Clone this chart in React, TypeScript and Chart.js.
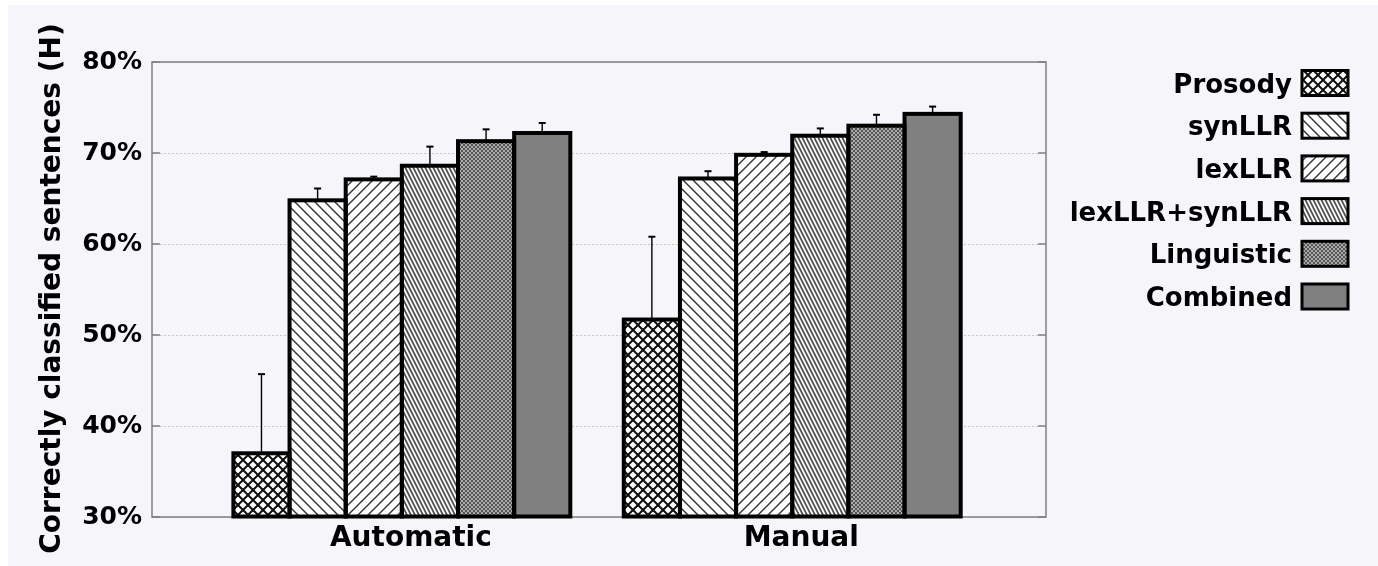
import React, { useEffect, useRef } from 'react';
import { Chart, registerables } from 'chart.js';

Chart.register(...registerables);

// Categories and series
const categories = ['Automatic', 'Manual'];
const seriesNames = ['Prosody', 'synLLR', 'lexLLR', 'lexLLR+synLLR', 'Linguistic', 'Combined'];

// Percentage of correctly classified sentences per series (Automatic, Manual)
const prosody = [37.0, 51.7];
const synLLR = [64.8, 67.2];
const lexLLR = [67.1, 69.8];
const lexSynLLR = [68.6, 71.9];
const linguistic = [71.3, 73.0];
const combined = [72.2, 74.3];

// Upper error extents (percentage points above each bar)
const prosodyErr = [8.7, 9.1];
const synLLRErr = [1.3, 0.8];
const lexLLRErr = [0.3, 0.3];
const lexSynLLRErr = [2.1, 0.8];
const linguisticErr = [1.3, 1.2];
const combinedErr = [1.1, 0.8];

const yTicks = [30, 40, 50, 60, 70, 80];

const FONT = '"DejaVu Sans", "Liberation Sans", sans-serif';

type Ctx2D = CanvasRenderingContext2D;

function makeTile(w: number, h: number, draw: (g: Ctx2D) => void): CanvasPattern {
  const c = document.createElement('canvas');
  c.width = w;
  c.height = h;
  const g = c.getContext('2d') as Ctx2D;
  g.fillStyle = '#ffffff';
  g.fillRect(0, 0, w, h);
  draw(g);
  return g.createPattern(c, 'repeat') as CanvasPattern;
}

// dir 1 draws "\" lines, dir -1 draws "/" lines, periodic within a w x h tile
function hatch(g: Ctx2D, w: number, h: number, dir: number, color: string, lw: number) {
  g.strokeStyle = color;
  g.lineWidth = lw;
  g.beginPath();
  for (let k = -2; k <= 2; k++) {
    if (dir > 0) {
      g.moveTo(k * w - w, -h);
      g.lineTo(k * w + 2 * w, 2 * h);
    } else {
      g.moveTo(k * w + 2 * w, -h);
      g.lineTo(k * w - w, 2 * h);
    }
  }
  g.stroke();
}

function buildFills(): (CanvasPattern | string)[] {
  const cross = makeTile(10, 10, (g) => {
    hatch(g, 10, 10, 1, '#111111', 2);
    hatch(g, 10, 10, -1, '#111111', 2);
  });
  const back = makeTile(10, 10, (g) => hatch(g, 10, 10, 1, '#333333', 1.4));
  const fwd = makeTile(10, 10, (g) => hatch(g, 10, 10, -1, '#333333', 1.4));
  const steep = makeTile(4, 8, (g) => hatch(g, 4, 8, 1, '#505050', 1.8));
  const dense = makeTile(4, 4, (g) => {
    hatch(g, 4, 4, 1, '#555555', 1.4);
    hatch(g, 4, 4, -1, '#555555', 1.4);
  });
  return [cross, back, fwd, steep, dense, '#808080'];
}

const framePlugin = {
  id: 'frameAndKey',
  beforeDatasetsDraw(chart: any) {
    const { ctx, chartArea: a } = chart;
    const y = chart.scales.y;
    ctx.save();
    ctx.strokeStyle = '#808080';
    ctx.lineWidth = 1.5;
    ctx.strokeRect(a.left, a.top, a.right - a.left, a.bottom - a.top);
    ctx.beginPath();
    for (const t of yTicks) {
      const py = y.getPixelForValue(t);
      ctx.moveTo(a.left, py);
      ctx.lineTo(a.left + 8, py);
      ctx.moveTo(a.right, py);
      ctx.lineTo(a.right - 8, py);
    }
    ctx.stroke();
    ctx.restore();
  },
  afterDatasetsDraw(chart: any) {
    const { ctx } = chart;
    const y = chart.scales.y;
    ctx.save();
    chart.data.datasets.forEach((ds: any, i: number) => {
      const meta = chart.getDatasetMeta(i);
      meta.data.forEach((bar: any, j: number) => {
        const p = bar.getProps(['x', 'y', 'base', 'width'], true);
        const top = y.getPixelForValue(ds.data[j].y + ds.errors[j]);
        // error bar
        ctx.strokeStyle = '#000000';
        ctx.lineWidth = 1.4;
        ctx.beginPath();
        ctx.moveTo(p.x, p.y);
        ctx.lineTo(p.x, top);
        ctx.stroke();
        ctx.lineWidth = 2;
        ctx.beginPath();
        ctx.moveTo(p.x - 3.5, top);
        ctx.lineTo(p.x + 3.5, top);
        ctx.stroke();
      });
    });
    chart.data.datasets.forEach((_ds: any, i: number) => {
      const meta = chart.getDatasetMeta(i);
      meta.data.forEach((bar: any) => {
        const p = bar.getProps(['x', 'y', 'base', 'width'], true);
        const base = Math.min(p.base, chart.chartArea.bottom);
        ctx.strokeStyle = '#000000';
        ctx.lineWidth = 4;
        ctx.lineJoin = 'miter';
        ctx.strokeRect(p.x - p.width / 2, p.y, p.width, base - p.y);
      });
    });
    ctx.restore();
  },
  afterDraw(chart: any) {
    const { ctx, chartArea: a } = chart;
    ctx.save();
    // key on the right
    const textRight = a.right + 246;
    const boxLeft = a.right + 256;
    chart.data.datasets.forEach((ds: any, i: number) => {
      const cy = a.top + 21 + i * 42.7;
      ctx.font = `bold 26px ${FONT}`;
      ctx.fillStyle = '#000000';
      ctx.textAlign = 'right';
      ctx.textBaseline = 'alphabetic';
      ctx.fillText(ds.label, textRight, cy + 9.5);
      ctx.fillStyle = ds.backgroundColor;
      ctx.fillRect(boxLeft, cy - 12.5, 46, 25);
      ctx.strokeStyle = '#000000';
      ctx.lineWidth = 3;
      ctx.strokeRect(boxLeft, cy - 12.5, 46, 25);
    });
    // y axis title
    ctx.translate(52, (a.top + a.bottom) / 2 - 1);
    ctx.rotate(-Math.PI / 2);
    ctx.font = `bold 28px ${FONT}`;
    ctx.fillStyle = '#000000';
    ctx.textAlign = 'center';
    ctx.textBaseline = 'alphabetic';
    ctx.fillText('Correctly classified sentences (H)', 0, 0);
    ctx.restore();
  },
};

export default function App() {
  const ref = useRef<HTMLCanvasElement>(null);

  useEffect(() => {
    const canvas = ref.current as HTMLCanvasElement;
    const fills = buildFills();
    const values = [prosody, synLLR, lexLLR, lexSynLLR, linguistic, combined];
    const errors = [prosodyErr, synLLRErr, lexLLRErr, lexSynLLRErr, linguisticErr, combinedErr];

    const datasets = seriesNames.map((name, i) => ({
      label: name,
      data: values[i].map((v, j) => ({ x: j, y: v })),
      errors: errors[i],
      backgroundColor: fills[i],
      borderWidth: 0,
      base: yTicks[0],
      categoryPercentage: 0.863,
      barPercentage: 1,
    }));

    const chart = new Chart(canvas, {
      type: 'bar',
      data: { datasets } as any,
      plugins: [framePlugin],
      options: {
        animation: false,
        responsive: false,
        devicePixelRatio: 1,
        layout: { padding: { top: 57, right: 332, left: 0, bottom: 0 } },
        plugins: {
          legend: { display: false },
          tooltip: { enabled: false },
        },
        scales: {
          x: {
            type: 'linear',
            min: -0.64,
            max: 1.65,
            offset: false,
            grid: { display: false, offset: false },
            border: { display: false },
            afterBuildTicks: (scale: any) => {
              scale.ticks = categories.map((_c, i) => ({ value: i }));
            },
            afterFit: (scale: any) => {
              scale.height = 49;
            },
            ticks: {
              callback: (_v: any, index: number) => categories[index],
              font: { family: FONT, size: 28, weight: 'bold' },
              color: '#000000',
              padding: -3,
              labelOffset: 9,
              maxRotation: 0,
              autoSkip: false,
            },
          },
          y: {
            type: 'linear',
            min: 30,
            max: 80,
            afterBuildTicks: (scale: any) => {
              scale.ticks = yTicks.map((v) => ({ value: v }));
            },
            afterFit: (scale: any) => {
              scale.width = 144;
            },
            grid: {
              color: '#c8c8c8',
              lineWidth: 1,
              drawTicks: false,
            },
            border: { display: false, dash: [2, 2] },
            ticks: {
              callback: (v: any) => `${v}%`,
              font: { family: FONT, size: 25, weight: 'bold' },
              color: '#000000',
              padding: 10,
            },
          },
        },
      } as any,
    });

    return () => chart.destroy();
  }, []);

  return (
    <div
      style={{
        position: 'absolute',
        left: 8,
        top: 5,
        width: 1370,
        height: 561,
        background: '#f5f5fa',
      }}
    >
      <canvas ref={ref} width={1370} height={561} style={{ display: 'block' }} />
    </div>
  );
}
